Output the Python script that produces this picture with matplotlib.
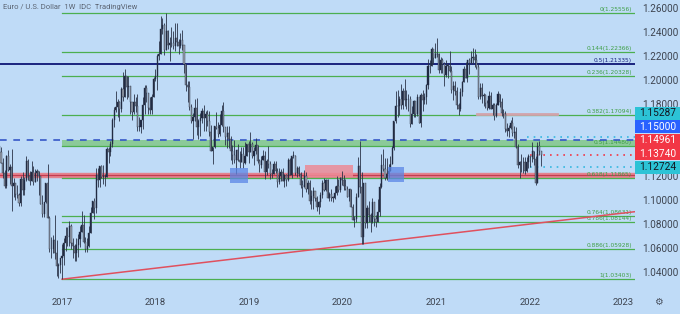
import numpy as np
import pandas as pd
import matplotlib
matplotlib.use('Agg')
import matplotlib.pyplot as plt
import matplotlib.dates as mdates
from matplotlib.patches import Rectangle
from matplotlib.transforms import blended_transform_factory

# Weekly EUR/USD bars, first bar = week of 2016-04-25 (open = previous close)
high = [
    1.1460, 1.1616, 1.1445, 1.1349, 1.1248, 1.1375, 1.1416, 1.1298, 1.1428, 1.1187,
    1.1121, 1.1122, 1.1059, 1.1198, 1.1233, 1.1190, 1.1366, 1.1341, 1.1245,
    1.1327, 1.1284, 1.1258, 1.1259, 1.1244, 1.1190, 1.1039, 1.0984, 1.1124,
    1.1299, 1.0867, 1.0693, 1.0712, 1.0874, 1.0668, 1.0475, 1.0486,
    # 2017
    1.0630, 1.0684, 1.0773, 1.0775, 1.0829, 1.0800, 1.0680, 1.0630, 1.0680,
    1.0715, 1.0785, 1.0905, 1.0875, 1.0690, 1.0680, 1.0780, 1.0945,
    1.0995, 1.1020, 1.1265, 1.1270, 1.1285, 1.1295, 1.1295, 1.1215, 1.1445,
    1.1445, 1.1490, 1.1680, 1.1775, 1.1910, 1.1845, 1.1825, 1.1940, 1.2070,
    1.2090, 1.2035, 1.2035, 1.1950, 1.1790, 1.1880, 1.1860, 1.1880, 1.1690,
    1.1665, 1.1860, 1.1960, 1.1960, 1.1865, 1.1860, 1.1880, 1.2025,
    # 2018
    1.2090, 1.2215, 1.2325, 1.2537, 1.2520, 1.2475, 1.2555, 1.2415, 1.2355,
    1.2445, 1.2410, 1.2475, 1.2475, 1.2345, 1.2395, 1.2415, 1.2275, 1.2125,
    1.1995, 1.1995, 1.1800, 1.1725, 1.1840, 1.1850, 1.1675, 1.1725,
    1.1770, 1.1790, 1.1745, 1.1750, 1.1745, 1.1625, 1.1440, 1.1620, 1.1735,
    1.1650, 1.1720, 1.1790, 1.1815, 1.1610, 1.1620, 1.1620, 1.1530, 1.1455,
    1.1500, 1.1420, 1.1470, 1.1405, 1.1440, 1.1440, 1.1485, 1.1470, 1.1495,
    # 2019
    1.1570, 1.1485, 1.1445, 1.1515, 1.1455, 1.1345, 1.1370, 1.1420,
    1.1410, 1.1345, 1.1450, 1.1325, 1.1255, 1.1325, 1.1325, 1.1265, 1.1265,
    1.1255, 1.1265, 1.1215, 1.1215, 1.1350, 1.1350, 1.1370, 1.1410,
    1.1375, 1.1285, 1.1285, 1.1230, 1.1165, 1.1250, 1.1230, 1.1165, 1.1165,
    1.1085, 1.1110, 1.1075, 1.1030, 1.0990, 1.1065, 1.1170, 1.1180, 1.1175,
    1.1175, 1.1070, 1.1095, 1.1030, 1.1115, 1.1200, 1.1175, 1.1190, 1.1240,
    # 2020
    1.1205, 1.1175, 1.1120, 1.1095, 1.1095, 1.0965, 1.0865, 1.1055,
    1.1355, 1.1495, 1.1235, 1.1145, 1.1145, 1.0955, 1.0990, 1.0890, 1.1020,
    1.0985, 1.0875, 1.1010, 1.1145, 1.1385, 1.1425, 1.1350, 1.1350, 1.1300,
    1.1370, 1.1450, 1.1650, 1.1910, 1.1915, 1.1870, 1.1965, 1.1930, 1.2011,
    1.1915, 1.1885, 1.1870, 1.1785, 1.1830, 1.1825, 1.1880, 1.1860,
    1.1890, 1.1920, 1.1895, 1.1965, 1.2175, 1.2165, 1.2275, 1.2255, 1.2310,
    # 2021
    1.2349, 1.2225, 1.2190, 1.2185, 1.2150, 1.2170, 1.2145, 1.2245,
    1.2115, 1.1990, 1.1990, 1.1945, 1.1810, 1.1930, 1.1995, 1.2115, 1.2150,
    1.2170, 1.2185, 1.2245, 1.2265, 1.2255, 1.2220, 1.2145, 1.1975, 1.1975,
    1.1895, 1.1880, 1.1835, 1.1910, 1.1900, 1.1805, 1.1805, 1.1805, 1.1910,
    1.1885, 1.1850, 1.1755, 1.1745, 1.1640, 1.1625, 1.1670, 1.1690,
    1.1615, 1.1610, 1.1465, 1.1325, 1.1380, 1.1355, 1.1360, 1.1360, 1.1385,
    # 2022
    1.1365, 1.1482, 1.1370, 1.1370, 1.1485, 1.1495, 1.1395,
]
low = [
    1.1215, 1.1384, 1.1306, 1.1187, 1.1104, 1.1097, 1.1240, 1.1131, 1.0912, 1.1029,
    1.0998, 1.1015, 1.0952, 1.0953, 1.1045, 1.1045, 1.1161, 1.1170, 1.1123,
    1.1155, 1.1121, 1.1149, 1.1160, 1.1043, 1.0964, 1.0860, 1.0859, 1.0972,
    1.0848, 1.0568, 1.0518, 1.0560, 1.0505, 1.0366, 1.0352, 1.0389,
    # 2017
    1.0340, 1.0455, 1.0578, 1.0620, 1.0620, 1.0590, 1.0520, 1.0495, 1.0495,
    1.0525, 1.0605, 1.0740, 1.0645, 1.0570, 1.0570, 1.0605, 1.0820,
    1.0890, 1.0840, 1.0890, 1.1110, 1.1110, 1.1180, 1.1130, 1.1120, 1.1190,
    1.1310, 1.1370, 1.1440, 1.1610, 1.1730, 1.1690, 1.1660, 1.1730, 1.1825,
    1.1870, 1.1840, 1.1860, 1.1715, 1.1670, 1.1720, 1.1730, 1.1575, 1.1575,
    1.1555, 1.1595, 1.1715, 1.1815, 1.1715, 1.1720, 1.1720, 1.1860,
    # 2018
    1.1995, 1.1915, 1.2165, 1.2215, 1.2385, 1.2205, 1.2260, 1.2255, 1.2155,
    1.2275, 1.2260, 1.2240, 1.2280, 1.2215, 1.2270, 1.2250, 1.2055, 1.1910,
    1.1820, 1.1750, 1.1645, 1.1510, 1.1660, 1.1540, 1.1510, 1.1530,
    1.1640, 1.1575, 1.1575, 1.1615, 1.1530, 1.1410, 1.1300, 1.1430, 1.1590,
    1.1525, 1.1530, 1.1615, 1.1570, 1.1460, 1.1430, 1.1430, 1.1335, 1.1300,
    1.1310, 1.1215, 1.1325, 1.1265, 1.1320, 1.1270, 1.1300, 1.1365, 1.1310,
    # 2019
    1.1400, 1.1350, 1.1290, 1.1385, 1.1310, 1.1235, 1.1270, 1.1355,
    1.1175, 1.1210, 1.1270, 1.1175, 1.1185, 1.1215, 1.1225, 1.1110, 1.1135,
    1.1160, 1.1155, 1.1105, 1.1115, 1.1160, 1.1205, 1.1180, 1.1350,
    1.1205, 1.1195, 1.1200, 1.1100, 1.1025, 1.1145, 1.1065, 1.1050, 1.0965,
    1.0925, 1.0925, 1.0990, 1.0905, 1.0880, 1.0940, 1.1015, 1.1075, 1.1075,
    1.1015, 1.0990, 1.0990, 1.0980, 1.1005, 1.1040, 1.1065, 1.1070, 1.1125,
    # 2020
    1.1085, 1.1085, 1.1025, 1.0990, 1.0940, 1.0830, 1.0778, 1.0815,
    1.1060, 1.1055, 1.0635, 1.0636, 1.0770, 1.0770, 1.0815, 1.0730, 1.0810,
    1.0780, 1.0775, 1.0870, 1.0870, 1.1100, 1.1245, 1.1170, 1.1170, 1.1185,
    1.1255, 1.1330, 1.1420, 1.1640, 1.1695, 1.1710, 1.1755, 1.1755, 1.1780,
    1.1755, 1.1740, 1.1610, 1.1630, 1.1690, 1.1690, 1.1700, 1.1640,
    1.1605, 1.1745, 1.1800, 1.1800, 1.1925, 1.2060, 1.2125, 1.2130, 1.2185,
    # 2021
    1.2190, 1.2055, 1.2055, 1.2060, 1.1950, 1.2025, 1.2020, 1.2070,
    1.1895, 1.1835, 1.1875, 1.1760, 1.1705, 1.1745, 1.1870, 1.1980, 1.2020,
    1.1985, 1.2050, 1.2135, 1.2135, 1.2105, 1.2095, 1.1845, 1.1845, 1.1805,
    1.1780, 1.1770, 1.1750, 1.1755, 1.1755, 1.1705, 1.1665, 1.1695, 1.1795,
    1.1775, 1.1700, 1.1685, 1.1565, 1.1530, 1.1525, 1.1590, 1.1535,
    1.1515, 1.1430, 1.1265, 1.1186, 1.1235, 1.1225, 1.1220, 1.1235, 1.1270,
    # 2022
    1.1275, 1.1315, 1.1290, 1.1121, 1.1150, 1.1375, 1.1280,
]
close = [
    1.1454, 1.1402, 1.1310, 1.1225, 1.1115, 1.1367, 1.1251, 1.1278, 1.1116, 1.1138,
    1.1052, 1.1040, 1.0975, 1.1173, 1.1086, 1.1165, 1.1325, 1.1199, 1.1155,
    1.1233, 1.1153, 1.1226, 1.1239, 1.1199, 1.0970, 1.0883, 1.0984, 1.1140,
    1.0853, 1.0590, 1.0590, 1.0665, 1.0560, 1.0451, 1.0456, 1.0520,
    # 2017
    1.0530, 1.0645, 1.0700, 1.0690, 1.0785, 1.0640, 1.0615, 1.0560, 1.0625,
    1.0675, 1.0735, 1.0795, 1.0650, 1.0590, 1.0615, 1.0725, 1.0895,
    1.0995, 1.0930, 1.1205, 1.1165, 1.1280, 1.1195, 1.1195, 1.1195, 1.1425,
    1.1400, 1.1470, 1.1665, 1.1750, 1.1775, 1.1820, 1.1760, 1.1925, 1.1860,
    1.2035, 1.1945, 1.1950, 1.1815, 1.1730, 1.1820, 1.1785, 1.1610, 1.1610,
    1.1665, 1.1795, 1.1930, 1.1895, 1.1770, 1.1750, 1.1860, 1.2005,
    # 2018
    1.2030, 1.2200, 1.2220, 1.2425, 1.2460, 1.2250, 1.2405, 1.2295, 1.2310,
    1.2305, 1.2285, 1.2350, 1.2320, 1.2280, 1.2330, 1.2290, 1.2130, 1.1960,
    1.1940, 1.1775, 1.1655, 1.1690, 1.1765, 1.1610, 1.1655, 1.1685,
    1.1745, 1.1685, 1.1720, 1.1655, 1.1565, 1.1410, 1.1440, 1.1620, 1.1600,
    1.1550, 1.1625, 1.1745, 1.1605, 1.1525, 1.1560, 1.1510, 1.1405, 1.1375,
    1.1335, 1.1415, 1.1335, 1.1315, 1.1380, 1.1305, 1.1370, 1.1465, 1.1400,
    # 2019
    1.1470, 1.1365, 1.1405, 1.1455, 1.1325, 1.1295, 1.1335, 1.1365,
    1.1235, 1.1325, 1.1300, 1.1215, 1.1215, 1.1300, 1.1245, 1.1150, 1.1200,
    1.1230, 1.1155, 1.1205, 1.1170, 1.1335, 1.1210, 1.1370, 1.1370,
    1.1225, 1.1270, 1.1220, 1.1125, 1.1110, 1.1200, 1.1090, 1.1145, 1.0990,
    1.1030, 1.1075, 1.1015, 1.0940, 1.0980, 1.1040, 1.1145, 1.1080, 1.1165,
    1.1020, 1.1050, 1.1020, 1.1020, 1.1060, 1.1120, 1.1080, 1.1180, 1.1165,
    # 2020
    1.1120, 1.1090, 1.1025, 1.1090, 1.0945, 1.0830, 1.0845, 1.1025,
    1.1285, 1.1105, 1.0695, 1.1140, 1.0805, 1.0935, 1.0875, 1.0820, 1.0980,
    1.0840, 1.0820, 1.0900, 1.1105, 1.1295, 1.1255, 1.1180, 1.1220, 1.1245,
    1.1300, 1.1430, 1.1655, 1.1780, 1.1785, 1.1840, 1.1795, 1.1905, 1.1835,
    1.1845, 1.1840, 1.1630, 1.1715, 1.1825, 1.1715, 1.1860, 1.1645,
    1.1875, 1.1835, 1.1855, 1.1960, 1.2120, 1.2115, 1.2255, 1.2185, 1.2215,
    # 2021
    1.2220, 1.2080, 1.2170, 1.2135, 1.2045, 1.2120, 1.2120, 1.2075,
    1.1915, 1.1950, 1.1905, 1.1795, 1.1760, 1.1900, 1.1980, 1.2095, 1.2020,
    1.2165, 1.2145, 1.2180, 1.2190, 1.2165, 1.2105, 1.1860, 1.1935, 1.1865,
    1.1875, 1.1810, 1.1770, 1.1870, 1.1760, 1.1795, 1.1700, 1.1795, 1.1880,
    1.1815, 1.1725, 1.1720, 1.1595, 1.1575, 1.1600, 1.1645, 1.1560,
    1.1565, 1.1445, 1.1290, 1.1320, 1.1315, 1.1315, 1.1240, 1.1320, 1.1370,
    # 2022
    1.1360, 1.1410, 1.1345, 1.1145, 1.1450, 1.1410, 1.1374,
]
assert len(high) == len(low) == len(close), (len(high), len(low), len(close))

first_week = '2016-04-25'
year_ticks = ['2017', '2018', '2019', '2020', '2021', '2022', '2023']

# Fibonacci retracement (Jan 2017 low -> Feb 2018 high)
fib_ratios = [0, 0.144, 0.236, 0.382, 0.5, 0.618, 0.764, 0.786, 0.886, 1]
fib_top = 1.25556
fib_bottom = 1.03403
fib_start = '2017-01-02'
mid_fib = 1.21335            # 0.5 of the longer-term move

# horizontal levels / zones
green_zone = (1.14480, 1.14961)
red_zone = (1.1188, 1.1222)
dashed_level = 1.15
resist_seg = ('2021-06-08', '2022-04-16', 1.1720)
red_boxes = [('2019-08-07', '2020-02-10', 1.1192, 1.1292)]
blue_boxes = [('2018-10-19', '2018-12-29', 1.1142, 1.1267),
              ('2020-06-27', '2020-08-28', 1.1150, 1.1275)]
trend_pts = [('2017-01-02', 1.0340), ('2020-03-23', 1.0636)]

# price tags on the right scale
tag_vals = [1.15287, 1.15000, 1.14961, 1.13740, 1.12724]
tag_face = ['#2cc3d6', '#2962ff', '#f23645', '#f23645', '#2cc3d6']
tag_text = ['#131722', 'white', 'white', 'white', '#131722']
dotted_lvls = [(1.15287, '#35b8e0', '2021-12-20'), (1.13740, '#f23645', '2022-01-03'),
               (1.12724, '#35b8e0', '2022-01-03')]

bg = '#bfdbf7'
up_col = '#1c2640'
dn_col = '#9aa2ad'
wick_col = '#2a3348'
fib_col = '#4caf50'

W, H = 680, 314
fig = plt.figure(figsize=(W / 100, H / 100), dpi=100, facecolor=bg)
ax = fig.add_axes([0, 24 / H, 635 / W, 290 / H], facecolor=bg)

dates = pd.date_range(first_week, periods=len(close), freq='7D')
x = mdates.date2num(dates)
c = np.array(close)
o = np.r_[c[0], c[:-1]]
hi = np.maximum(np.array(high), np.maximum(o, c))
lo = np.minimum(np.array(low), np.minimum(o, c))
up = c >= o

xl = mdates.date2num(pd.Timestamp('2016-05-05'))
xr = xl + 635 / 0.2563
ytop, ybot = 1.26667, 1.025
ax.set_xlim(xl, xr)
ax.set_ylim(ybot, ytop)

# zones and levels
ax.add_patch(Rectangle((mdates.date2num(pd.Timestamp(fib_start)), green_zone[0]),
                       xr - mdates.date2num(pd.Timestamp(fib_start)), green_zone[1] - green_zone[0],
                       facecolor='#86c98f', edgecolor='none', alpha=0.9, zorder=1))
ax.axhspan(red_zone[0], red_zone[1], color='#e4838f', zorder=1)
ax.axhline(sum(red_zone) / 2, color='#c43b50', lw=0.9, zorder=1)
for d0, d1, y0, y1 in red_boxes:
    a, b = mdates.date2num(pd.Timestamp(d0)), mdates.date2num(pd.Timestamp(d1))
    ax.add_patch(Rectangle((a, y0), b - a, y1 - y0, facecolor='#ec8a96', alpha=0.85,
                           edgecolor='none', zorder=1))
for d0, d1, y0, y1 in blue_boxes:
    a, b = mdates.date2num(pd.Timestamp(d0)), mdates.date2num(pd.Timestamp(d1))
    ax.add_patch(Rectangle((a, y0), b - a, y1 - y0, facecolor='#5b86e6', alpha=0.75,
                           edgecolor='none', zorder=4))

fx0 = mdates.date2num(pd.Timestamp(fib_start))
lab_tr = blended_transform_factory(ax.transAxes, ax.transData)
for r in fib_ratios:
    lvl = fib_top - r * (fib_top - fib_bottom)
    ax.plot([fx0, xr], [lvl, lvl], color=fib_col, lw=0.9, zorder=2)
    ax.text(0.995, lvl + 0.0008, '%g(%.5f)' % (r, lvl), transform=lab_tr, ha='right',
            va='bottom', fontsize=4.2, color='#3f9f45', zorder=2)
ax.axhline(mid_fib, color='#1a237e', lw=1.4, zorder=2)
ax.text(0.995, mid_fib + 0.0008, '0.5(%.5f)' % mid_fib, transform=lab_tr, ha='right',
        va='bottom', fontsize=4.2, color='#1a237e', zorder=2)
ax.axhline(dashed_level, color='#3558c8', lw=1.2, ls=(0, (4, 4)), zorder=2)
ax.plot([mdates.date2num(pd.Timestamp(resist_seg[0])), mdates.date2num(pd.Timestamp(resist_seg[1]))],
        [resist_seg[2]] * 2, color='#d2a3ab', lw=2, zorder=2)
for lvl, col, d0 in dotted_lvls:
    ax.plot([mdates.date2num(pd.Timestamp(d0)), xr], [lvl, lvl], color=col, lw=1.2,
            ls=(0, (1, 3)), zorder=2)

# trend line through the 2017 and 2020 lows, extended to the right edge
(ta, tya), (tb, tyb) = trend_pts
ta, tb = mdates.date2num(pd.Timestamp(ta)), mdates.date2num(pd.Timestamp(tb))
slope = (tyb - tya) / (tb - ta)
ax.plot([ta, xr], [tya, tya + slope * (xr - ta)], color='#e0505e', lw=1.1, zorder=2)

# candles
ax.vlines(x, lo, hi, colors=wick_col, lw=0.6, zorder=3)
body_lo = np.minimum(o, c)
body_h = np.maximum(np.abs(c - o), 0.0004)
ax.bar(x[up], body_h[up], bottom=body_lo[up], width=4.2, color=up_col,
       edgecolor=wick_col, lw=0.3, zorder=3)
ax.bar(x[~up], body_h[~up], bottom=body_lo[~up], width=4.2, color=dn_col,
       edgecolor=wick_col, lw=0.3, zorder=3)

# axes styling
for s in ax.spines.values():
    s.set_visible(False)
ax.yaxis.tick_right()
yticks = np.arange(1.04, 1.2601, 0.02)
ax.set_yticks(yticks)
ax.yaxis.set_major_formatter(plt.FormatStrFormatter('%.5f'))
ax.set_xticks([mdates.date2num(pd.Timestamp(y + '-01-01')) for y in year_ticks])
ax.set_xticklabels(year_ticks)
ax.tick_params(axis='y', length=0, pad=5, labelsize=7.2, labelcolor='#3d4450')
ax.tick_params(axis='x', length=0, pad=6, labelsize=6.8, labelcolor='#3d4450')
for t in ax.get_yticklabels() + ax.get_xticklabels():
    t.set_fontfamily('Roboto')

# stacked price tags
ppu = 290 / (ytop - ybot)
gap = 13.5 / ppu
tag_tr = blended_transform_factory(fig.transFigure, ax.transData)
order = np.argsort(tag_vals)
prev = None
tag_pos = []
for i in order:
    yc = tag_vals[i] if prev is None else max(tag_vals[i], prev + gap)
    prev = yc
    tag_pos.append(yc)
    ax.add_patch(Rectangle((635 / W, yc - 6.5 / ppu), 45 / W, 13 / ppu, transform=tag_tr,
                           facecolor=tag_face[i], edgecolor='none', clip_on=False, zorder=6))
    ax.text(657.5 / W, yc, '%.5f' % tag_vals[i], transform=tag_tr, ha='center', va='center',
            fontsize=7.3, color=tag_text[i], family='Roboto', clip_on=False, zorder=7)

# scale labels that sit behind a tag are hidden, as on the platform
for tv, lab in zip(yticks, ax.get_yticklabels()):
    if min(abs(tv - p) for p in tag_pos) * ppu < 8.5:
        lab.set_visible(False)

# hide the cut-off part of the last year label and add the gear icon
fig.add_artist(Rectangle((635 / W, 0), 45 / W, 24 / H, transform=fig.transFigure,
                         facecolor=bg, edgecolor='none', zorder=10))
fig.text(658 / W, 1 - 302 / H, '\u2699', ha='center', va='center', fontsize=7,
         color='#4a5260', zorder=11)

fig.text(3 / W, 1 - 7 / H, 'Euro / U.S. Dollar  1W  IDC  TradingView', ha='left',
         va='center', fontsize=5.5, color='#5b6472', family='Roboto')

fig.savefig('out.png', dpi=100, facecolor=bg)
